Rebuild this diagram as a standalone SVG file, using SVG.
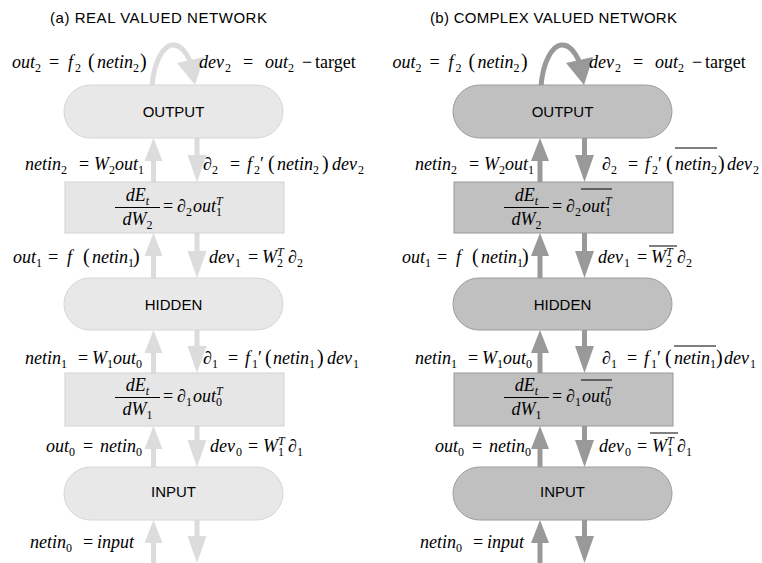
<svg xmlns="http://www.w3.org/2000/svg" width="762" height="563" viewBox="0 0 762 563">
<style>
.bg{fill:#fff}
.t{font-family:"Liberation Sans",Arial,sans-serif;font-size:15px;fill:#000}
.n{font-family:"Liberation Sans",Arial,sans-serif;font-size:15px;fill:#000;text-anchor:middle}
.m{font-family:"Liberation Serif","Times New Roman",serif;font-style:italic;font-size:18px;fill:#000}
.r{font-style:normal}
.s{font-size:12px;font-style:normal}
.si{font-size:12px}
.p{font-style:normal;font-size:20px}
.pillL{fill:#e8e8e8;stroke:#d6d6d6;stroke-width:1}
.boxL{fill:#e6e6e6;stroke:#d2d2d2;stroke-width:1}
.pillR{fill:#c0c0c0;stroke:#9c9c9c;stroke-width:1}
.boxR{fill:#c0c0c0;stroke:#999;stroke-width:1}
.aL{fill:#dcdcdc}
.aR{fill:#999}
.cL{fill:none;stroke:#dcdcdc;stroke-width:5}
.cR{fill:none;stroke:#999;stroke-width:5}
.ov{stroke:#000;stroke-width:1;fill:none}
</style>
<rect class="bg" x="0" y="0" width="762" height="563"/>
<text class="t" x="50" y="23" textLength="217">(a) REAL VALUED NETWORK</text>
<text class="t" x="430" y="23" textLength="247">(b) COMPLEX VALUED NETWORK</text>

<g id="connectors">
<path class="cL" d="M152,86 C154,62 163,46 172,45 C180,44 186,52 190,61"/>
<polygon class="aL" points="177,63 204,57 195,85"/>
<path class="cR" d="M541,86 C543,62 552,46 561,45 C569,44 575,52 579,61"/>
<polygon class="aR" points="566,63 593,57 584,85"/>
<path class="aL" d="M151,182 V161 H144.5 L153.5,138 L162.5,161 H156 V182 Z"/>
<path class="aL" d="M151,278 V256 H144.5 L153.5,233 L162.5,256 H156 V278 Z"/>
<path class="aL" d="M151,373 V353 H144.5 L153.5,330 L162.5,353 H156 V373 Z"/>
<path class="aL" d="M151,467 V449 H144.5 L153.5,426 L162.5,449 H156 V467 Z"/>
<path class="aL" d="M151,563 V543 H144.5 L153.5,520 L162.5,543 H156 V563 Z"/>
<path class="aL" d="M194.5,138 V155 H187.5 L197,182 L206.5,155 H199.5 V138 Z"/>
<path class="aL" d="M194.5,233 V251 H187.5 L197,278 L206.5,251 H199.5 V233 Z"/>
<path class="aL" d="M194.5,330 V346 H187.5 L197,373 L206.5,346 H199.5 V330 Z"/>
<path class="aL" d="M194.5,426 V440 H187.5 L197,467 L206.5,440 H199.5 V426 Z"/>
<path class="aL" d="M194.5,520 V536 H187.5 L197,563 L206.5,536 H199.5 V520 Z"/>
<path class="aR" d="M537.5,182 V161 H531 L540,138 L549,161 H542.5 V182 Z"/>
<path class="aR" d="M537.5,278 V256 H531 L540,233 L549,256 H542.5 V278 Z"/>
<path class="aR" d="M537.5,373 V353 H531 L540,330 L549,353 H542.5 V373 Z"/>
<path class="aR" d="M537.5,467 V449 H531 L540,426 L549,449 H542.5 V467 Z"/>
<path class="aR" d="M537.5,563 V543 H531 L540,520 L549,543 H542.5 V563 Z"/>
<path class="aR" d="M582,138 V155 H575 L584.5,182 L594,155 H587 V138 Z"/>
<path class="aR" d="M582,233 V251 H575 L584.5,278 L594,251 H587 V233 Z"/>
<path class="aR" d="M582,330 V346 H575 L584.5,373 L594,346 H587 V330 Z"/>
<path class="aR" d="M582,426 V440 H575 L584.5,467 L594,440 H587 V426 Z"/>
<path class="aR" d="M582,520 V536 H575 L584.5,563 L594,536 H587 V520 Z"/>
</g>

<g id="outputL">
<rect class="pillL" x="64" y="85" width="219" height="53" rx="26.5"/>
<text class="n" x="173.5" y="117">OUTPUT</text>
</g>
<g id="w2boxL">
<rect class="boxL" x="65" y="182" width="219" height="51"/>
<text class="m" x="137.5" y="201" text-anchor="middle">dE<tspan class="si" dy="4">t</tspan></text>
<line class="ov" x1="115" y1="207.5" x2="160" y2="207.5"/>
<text class="m" x="137.5" y="225" text-anchor="middle">dW<tspan class="s" dy="4">2</tspan></text>
<text class="m" y="212"><tspan class="r" x="163">=</tspan><tspan class="r" x="177">∂</tspan><tspan class="s" dy="4">2</tspan><tspan x="193" dy="-4">out</tspan><tspan class="s" dy="4">1</tspan><tspan class="si" dx="-6" dy="-11">T</tspan></text>
</g>
<g id="hiddenL">
<rect class="pillL" x="64" y="278" width="219" height="52" rx="26"/>
<text class="n" x="173.5" y="310">HIDDEN</text>
</g>
<g id="w1boxL">
<rect class="boxL" x="65" y="373" width="219" height="53"/>
<text class="m" x="137.5" y="391" text-anchor="middle">dE<tspan class="si" dy="4">t</tspan></text>
<line class="ov" x1="115" y1="397.5" x2="160" y2="397.5"/>
<text class="m" x="137.5" y="415" text-anchor="middle">dW<tspan class="s" dy="4">1</tspan></text>
<text class="m" y="402"><tspan class="r" x="163">=</tspan><tspan class="r" x="177">∂</tspan><tspan class="s" dy="4">1</tspan><tspan x="193" dy="-4">out</tspan><tspan class="s" dy="4">0</tspan><tspan class="si" dx="-6" dy="-11">T</tspan></text>
</g>
<g id="inputL">
<rect class="pillL" x="64" y="467" width="219" height="53" rx="26.5"/>
<text class="n" x="173.5" y="497">INPUT</text>
</g>

<g id="labelsL">
<text class="m" y="68"><tspan x="12">out</tspan><tspan class="s" dy="4">2</tspan><tspan class="r" x="49" dy="-4">=</tspan><tspan x="68">f</tspan><tspan class="s" dx="2" dy="4">2</tspan><tspan class="p" x="88" dy="-4">(</tspan><tspan x="97">netin</tspan><tspan class="s" dy="4">2</tspan><tspan class="p" x="140" dy="-4">)</tspan></text>
<text class="m" y="68"><tspan x="199">dev</tspan><tspan class="s" dx="1" dy="4">2</tspan><tspan class="r" x="243" dy="-4">=</tspan><tspan x="265">out</tspan><tspan class="s" dy="4">2</tspan><tspan class="r" x="302" dy="-4">−</tspan><tspan class="r" x="315">target</tspan></text>
<text class="m" y="170"><tspan x="25">netin</tspan><tspan class="s" dy="4">2</tspan><tspan class="r" x="79" dy="-4">=</tspan><tspan x="94">W</tspan><tspan class="s" dy="4">2</tspan><tspan dy="-4">out</tspan><tspan class="s" dy="4">1</tspan></text>
<text class="m" y="170"><tspan class="r" x="203">∂</tspan><tspan class="s" dy="4">2</tspan><tspan class="r" x="230" dy="-4">=</tspan><tspan x="247">f</tspan><tspan class="s" dx="2" dy="4">2</tspan><tspan class="r" dy="-4">′</tspan><tspan class="p" x="268">(</tspan><tspan x="277">netin</tspan><tspan class="s" dy="4">2</tspan><tspan class="p" x="322" dy="-4">)</tspan><tspan x="332">dev</tspan><tspan class="s" dx="1" dy="4">2</tspan></text>
<text class="m" y="263"><tspan x="13">out</tspan><tspan class="s" dy="4">1</tspan><tspan class="r" x="48" dy="-4">=</tspan><tspan x="67">f</tspan><tspan class="p" x="83">(</tspan><tspan x="92">netin</tspan><tspan class="s" dy="4">1</tspan><tspan class="p" x="133" dy="-4">)</tspan></text>
<text class="m" y="263"><tspan x="209">dev</tspan><tspan class="s" dx="1" dy="4">1</tspan><tspan class="r" x="248" dy="-4">=</tspan><tspan x="262">W</tspan><tspan class="s" dy="4">2</tspan><tspan class="si" dx="-6" dy="-11">T</tspan><tspan class="r" x="288" dy="7">∂</tspan><tspan class="s" dy="4">2</tspan></text>
<text class="m" y="364"><tspan x="25">netin</tspan><tspan class="s" dy="4">1</tspan><tspan class="r" x="78" dy="-4">=</tspan><tspan x="92">W</tspan><tspan class="s" dy="4">1</tspan><tspan dy="-4">out</tspan><tspan class="s" dy="4">0</tspan></text>
<text class="m" y="364"><tspan class="r" x="203">∂</tspan><tspan class="s" dy="4">1</tspan><tspan class="r" x="228" dy="-4">=</tspan><tspan x="245">f</tspan><tspan class="s" dx="2" dy="4">1</tspan><tspan class="r" dy="-4">′</tspan><tspan class="p" x="265">(</tspan><tspan x="273">netin</tspan><tspan class="s" dy="4">1</tspan><tspan class="p" x="317" dy="-4">)</tspan><tspan x="327">dev</tspan><tspan class="s" dx="1" dy="4">1</tspan></text>
<text class="m" y="452"><tspan x="46">out</tspan><tspan class="s" dy="4">0</tspan><tspan class="r" x="83" dy="-4">=</tspan><tspan x="100">netin</tspan><tspan class="s" dy="4">0</tspan></text>
<text class="m" y="452"><tspan x="210">dev</tspan><tspan class="s" dx="1" dy="4">0</tspan><tspan class="r" x="248" dy="-4">=</tspan><tspan x="263">W</tspan><tspan class="s" dy="4">1</tspan><tspan class="si" dx="-6" dy="-11">T</tspan><tspan class="r" x="288" dy="7">∂</tspan><tspan class="s" dy="4">1</tspan></text>
<text class="m" y="548"><tspan x="30">netin</tspan><tspan class="s" dy="4">0</tspan><tspan class="r" x="83" dy="-4">=</tspan><tspan x="97">input</tspan></text>
</g>

<g id="outputR">
<rect class="pillR" x="453" y="85" width="219" height="53" rx="26.5"/>
<text class="n" x="562.5" y="117">OUTPUT</text>
</g>
<g id="w2boxR">
<rect class="boxR" x="454" y="182" width="219" height="51"/>
<text class="m" x="526.5" y="201" text-anchor="middle">dE<tspan class="si" dy="4">t</tspan></text>
<line class="ov" x1="504" y1="207.5" x2="549" y2="207.5"/>
<text class="m" x="526.5" y="225" text-anchor="middle">dW<tspan class="s" dy="4">2</tspan></text>
<text class="m" y="212"><tspan class="r" x="552">=</tspan><tspan class="r" x="566">∂</tspan><tspan class="s" dy="4">2</tspan><tspan x="582" dy="-4">out</tspan><tspan class="s" dy="4">1</tspan><tspan class="si" dx="-6" dy="-11">T</tspan></text>
<line class="ov" x1="581" y1="189" x2="612" y2="189"/>
</g>
<g id="hiddenR">
<rect class="pillR" x="453" y="278" width="219" height="52" rx="26"/>
<text class="n" x="562.5" y="310">HIDDEN</text>
</g>
<g id="w1boxR">
<rect class="boxR" x="454" y="373" width="219" height="53"/>
<text class="m" x="526.5" y="391" text-anchor="middle">dE<tspan class="si" dy="4">t</tspan></text>
<line class="ov" x1="504" y1="397.5" x2="549" y2="397.5"/>
<text class="m" x="526.5" y="415" text-anchor="middle">dW<tspan class="s" dy="4">1</tspan></text>
<text class="m" y="402"><tspan class="r" x="552">=</tspan><tspan class="r" x="566">∂</tspan><tspan class="s" dy="4">1</tspan><tspan x="582" dy="-4">out</tspan><tspan class="s" dy="4">0</tspan><tspan class="si" dx="-6" dy="-11">T</tspan></text>
<line class="ov" x1="581" y1="380" x2="612" y2="380"/>
</g>
<g id="inputR">
<rect class="pillR" x="453" y="467" width="219" height="53" rx="26.5"/>
<text class="n" x="562.5" y="497">INPUT</text>
</g>

<g id="labelsR">
<text class="m" y="68"><tspan x="392.5">out</tspan><tspan class="s" dy="4">2</tspan><tspan class="r" x="429.5" dy="-4">=</tspan><tspan x="448.5">f</tspan><tspan class="s" dx="2" dy="4">2</tspan><tspan class="p" x="468.5" dy="-4">(</tspan><tspan x="477.5">netin</tspan><tspan class="s" dy="4">2</tspan><tspan class="p" x="521" dy="-4">)</tspan></text>
<text class="m" y="68"><tspan x="589">dev</tspan><tspan class="s" dx="1" dy="4">2</tspan><tspan class="r" x="633" dy="-4">=</tspan><tspan x="655">out</tspan><tspan class="s" dy="4">2</tspan><tspan class="r" x="692" dy="-4">−</tspan><tspan class="r" x="705">target</tspan></text>
<text class="m" y="170"><tspan x="415">netin</tspan><tspan class="s" dy="4">2</tspan><tspan class="r" x="469" dy="-4">=</tspan><tspan x="484">W</tspan><tspan class="s" dy="4">2</tspan><tspan dy="-4">out</tspan><tspan class="s" dy="4">1</tspan></text>
<text class="m" y="170"><tspan class="r" x="602">∂</tspan><tspan class="s" dy="4">2</tspan><tspan class="r" x="628" dy="-4">=</tspan><tspan x="645">f</tspan><tspan class="s" dx="2" dy="4">2</tspan><tspan class="r" dy="-4">′</tspan><tspan class="p" x="666">(</tspan><tspan x="675">netin</tspan><tspan class="s" dy="4">2</tspan><tspan class="p" x="718" dy="-4">)</tspan><tspan x="727">dev</tspan><tspan class="s" dx="1" dy="4">2</tspan></text>
<line class="ov" x1="675" y1="148" x2="717" y2="148"/>
<text class="m" y="263"><tspan x="402">out</tspan><tspan class="s" dy="4">1</tspan><tspan class="r" x="437" dy="-4">=</tspan><tspan x="456">f</tspan><tspan class="p" x="472">(</tspan><tspan x="481">netin</tspan><tspan class="s" dy="4">1</tspan><tspan class="p" x="522" dy="-4">)</tspan></text>
<text class="m" y="263"><tspan x="598">dev</tspan><tspan class="s" dx="1" dy="4">1</tspan><tspan class="r" x="637" dy="-4">=</tspan><tspan x="651">W</tspan><tspan class="s" dy="4">2</tspan><tspan class="si" dx="-6" dy="-11">T</tspan><tspan class="r" x="677" dy="7">∂</tspan><tspan class="s" dy="4">2</tspan></text>
<line class="ov" x1="649" y1="246" x2="677" y2="246"/>
<text class="m" y="364"><tspan x="415">netin</tspan><tspan class="s" dy="4">1</tspan><tspan class="r" x="468" dy="-4">=</tspan><tspan x="482">W</tspan><tspan class="s" dy="4">1</tspan><tspan dy="-4">out</tspan><tspan class="s" dy="4">0</tspan></text>
<text class="m" y="364"><tspan class="r" x="602">∂</tspan><tspan class="s" dy="4">1</tspan><tspan class="r" x="627" dy="-4">=</tspan><tspan x="644">f</tspan><tspan class="s" dx="2" dy="4">1</tspan><tspan class="r" dy="-4">′</tspan><tspan class="p" x="665">(</tspan><tspan x="674">netin</tspan><tspan class="s" dy="4">1</tspan><tspan class="p" x="716" dy="-4">)</tspan><tspan x="724">dev</tspan><tspan class="s" dx="1" dy="4">1</tspan></text>
<line class="ov" x1="674" y1="346" x2="716" y2="346"/>
<text class="m" y="452"><tspan x="435">out</tspan><tspan class="s" dy="4">0</tspan><tspan class="r" x="472" dy="-4">=</tspan><tspan x="489">netin</tspan><tspan class="s" dy="4">0</tspan></text>
<text class="m" y="452"><tspan x="599">dev</tspan><tspan class="s" dx="1" dy="4">0</tspan><tspan class="r" x="637" dy="-4">=</tspan><tspan x="652">W</tspan><tspan class="s" dy="4">1</tspan><tspan class="si" dx="-6" dy="-11">T</tspan><tspan class="r" x="677" dy="7">∂</tspan><tspan class="s" dy="4">1</tspan></text>
<line class="ov" x1="650" y1="433" x2="678" y2="433"/>
<text class="m" y="548"><tspan x="420">netin</tspan><tspan class="s" dy="4">0</tspan><tspan class="r" x="473" dy="-4">=</tspan><tspan x="487">input</tspan></text>
</g>
</svg>
